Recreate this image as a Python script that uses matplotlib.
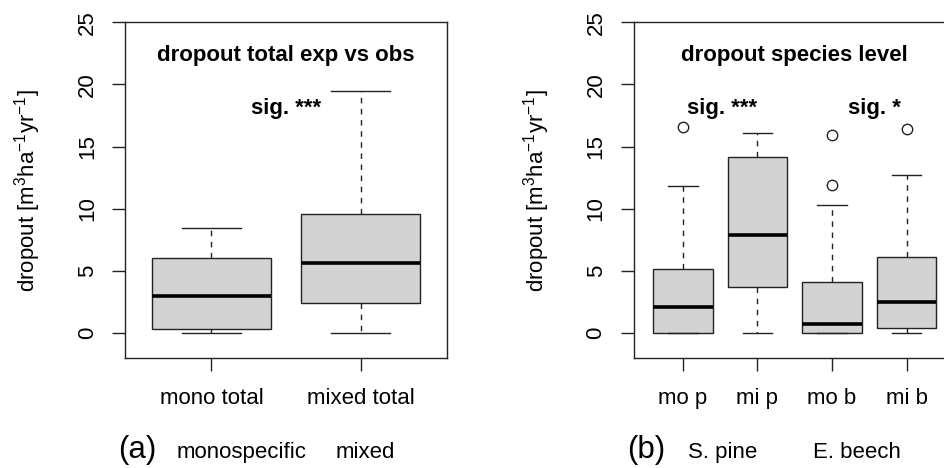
import matplotlib
matplotlib.use("Agg")
import matplotlib.pyplot as plt

plt.rcParams['font.family'] = 'Liberation Sans'
plt.rcParams['mathtext.fontset'] = 'custom'
plt.rcParams['mathtext.rm'] = 'Liberation Sans'
plt.rcParams['mathtext.it'] = 'Liberation Sans:italic'
plt.rcParams['mathtext.bf'] = 'Liberation Sans:bold'

# panel (a): total dropout
labels_a = ['mono total', 'mixed total']
whislo_a = [0.0, 0.0]
q1_a = [0.37, 2.43]
med_a = [3.0, 5.62]
q3_a = [6.02, 9.57]
whishi_a = [8.45, 19.47]
fliers_a = [[], []]

# panel (b): species level
labels_b = ['mo p', 'mi p', 'mo b', 'mi b']
whislo_b = [0.0, 0.0, 0.0, 0.0]
q1_b = [0.0, 3.72, 0.02, 0.40]
med_b = [2.09, 7.87, 0.72, 2.49]
q3_b = [5.16, 14.15, 4.14, 6.15]
whishi_b = [11.85, 16.07, 10.32, 12.73]
fliers_b = [[16.6], [], [11.9, 15.94], [16.42]]

yticks = [0, 5, 10, 15, 20, 25]
ylab = 'dropout [m$^{3}$ha$^{-1}$yr$^{-1}$]'


def make_stats(labels, lo, q1, med, q3, hi, fl):
    out = []
    for i in range(len(labels)):
        out.append(dict(label=labels[i], whislo=lo[i], q1=q1[i], med=med[i],
                        q3=q3[i], whishi=hi[i], fliers=fl[i]))
    return out


def draw_panel(ax, stats):
    n = len(stats)
    ax.bxp(stats, positions=range(1, n + 1), widths=0.8, patch_artist=True,
           boxprops=dict(facecolor='#d3d3d3', edgecolor='#222222', linewidth=1.0),
           medianprops=dict(color='black', linewidth=2.6, solid_capstyle='butt'),
           whiskerprops=dict(color='#222222', linewidth=1.0, linestyle=(0, (4, 4))),
           capprops=dict(color='#222222', linewidth=1.0),
           capwidths=0.4,
           flierprops=dict(marker='o', markerfacecolor='none', markeredgecolor='#222222',
                           markersize=7.5, markeredgewidth=1.0))
    ax.set_xlim(0.5 - 0.04 * n, n + 0.5 + 0.04 * n)
    ax.set_ylim(-2, 25)
    ax.set_yticks(yticks)
    ax.set_yticklabels([str(t) for t in yticks], rotation=90, va='center')
    ax.tick_params(axis='both', length=9.5, width=1.0, color='#222222', labelsize=16)
    ax.tick_params(axis='y', pad=10)
    ax.tick_params(axis='x', pad=12)
    for s in ax.spines.values():
        s.set_linewidth(1.0)
        s.set_color('#222222')
    ax.set_ylabel(ylab, fontsize=16)
    ax.yaxis.set_label_coords(-0.255, 0.5)


fig = plt.figure(figsize=(9.45, 4.68), dpi=100)
ax1 = fig.add_axes([125 / 945, 1 - 358 / 468, 322 / 945, (358 - 22.3) / 468])
ax2 = fig.add_axes([633.7 / 945, 1 - 358 / 468, 322 / 945, (358 - 22.3) / 468])

draw_panel(ax1, make_stats(labels_a, whislo_a, q1_a, med_a, q3_a, whishi_a, fliers_a))
draw_panel(ax2, make_stats(labels_b, whislo_b, q1_b, med_b, q3_b, whishi_b, fliers_b))

ax1.text(1.5, 22.3, 'dropout total exp vs obs', ha='center', va='center',
         fontsize=16, fontweight='bold')
ax1.text(1.5, 18.1, 'sig. ***', ha='center', va='center', fontsize=16, fontweight='bold')

ax2.text(2.49, 22.3, 'dropout species level', ha='center', va='center',
         fontsize=16, fontweight='bold')
ax2.text(1.52, 18.1, 'sig. ***', ha='center', va='center', fontsize=16, fontweight='bold')
ax2.text(3.57, 18.1, 'sig. *', ha='center', va='center', fontsize=16, fontweight='bold')

base_y = 10 / 468
fig.text(137.5 / 945, base_y, '(a)', ha='center', va='baseline', fontsize=22.5)
fig.text(241.5 / 945, base_y, 'monospecific', ha='center', va='baseline', fontsize=16)
fig.text(365 / 945, base_y, 'mixed', ha='center', va='baseline', fontsize=16)
fig.text(646 / 945, base_y, '(b)', ha='center', va='baseline', fontsize=22.5)
fig.text(723 / 945, base_y, 'S. pine', ha='center', va='baseline', fontsize=16)
fig.text(857 / 945, base_y, 'E. beech', ha='center', va='baseline', fontsize=16)

fig.savefig('out.png', dpi=100)
